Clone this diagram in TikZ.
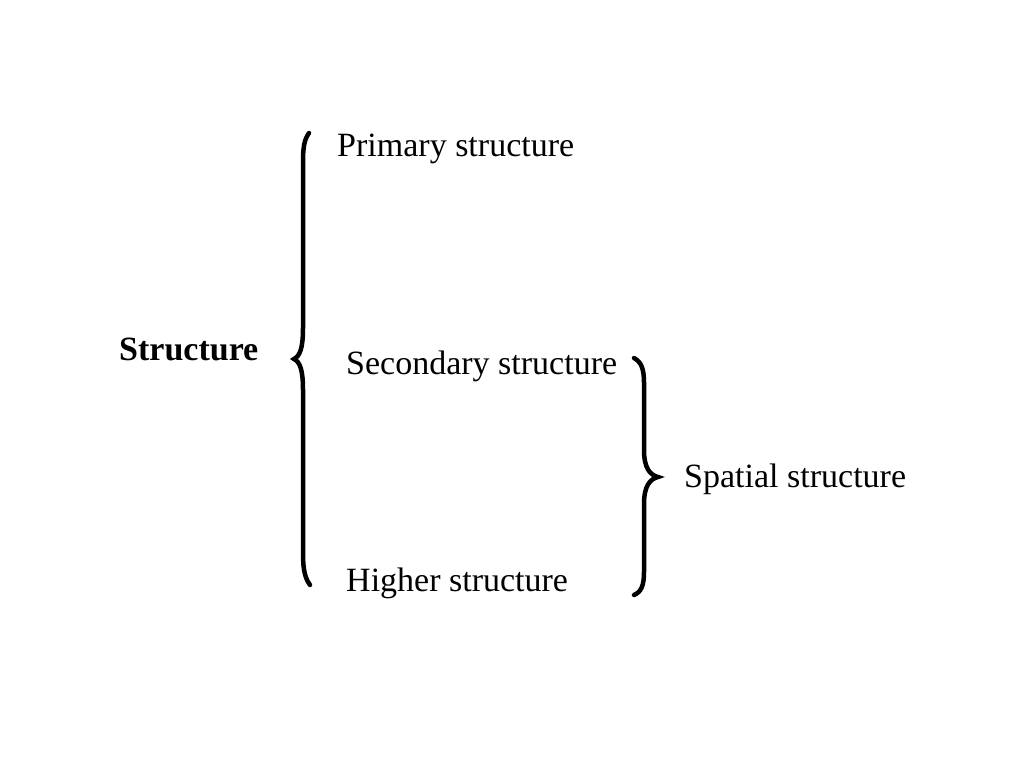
\documentclass[tikz,border=0pt]{standalone}
\usepackage{fontspec}
\setmainfont{Liberation Serif}
\usepackage{tikz}
\usetikzlibrary{positioning}

\tikzset{
  label/.style={anchor=west,inner sep=0pt,font=\fontsize{34}{40}\selectfont},
  bracepath/.style={line width=4.5pt,line cap=round}
}

\begin{document}
\begin{tikzpicture}[x=1pt,y=1pt]
    \useasboundingbox (0,0) rectangle (1024,768);
    \node [label] (primary) at (337,619) {Primary structure};
    \node [label] (secondary) at (346,402) {Secondary structure};
    \node [label] (higher) at (346,185) {Higher structure};
    \node [label] (spatial) at (684,289) {Spatial structure};
    \node [label,font=\fontsize{34}{40}\selectfont\bfseries] (struct) at (119,419) {Structure};
    % left brace
    \draw [bracepath] (309,635) .. controls (304,628) and (303,620) .. (303,605)
      -- (303,440) .. controls (303,420) and (300,412) .. (294,409)
      .. controls (300,406) and (303,398) .. (303,378)
      -- (303,215) .. controls (303,198) and (305,190) .. (310,183);
    % right brace
    \draw [bracepath] (634,410) .. controls (641,406) and (644,400) .. (644,385)
      -- (644,318) .. controls (644,300) and (650,293) .. (658,291)
      .. controls (650,289) and (644,282) .. (644,264)
      -- (644,196) .. controls (644,182) and (641,176) .. (634,173);
\end{tikzpicture}
\end{document}
